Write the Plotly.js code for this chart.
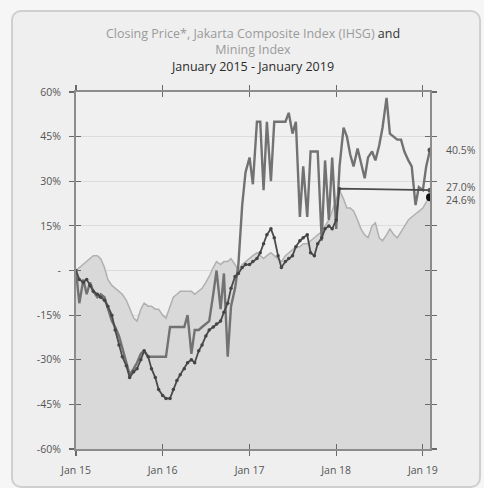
<!DOCTYPE html>
<html>
<head>
<meta charset="utf-8">
<script src="https://cdn.plot.ly/plotly-3.0.1.min.js"></script>
<style>
  html, body { margin: 0; padding: 0; background: #f6f6f6; width: 484px; height: 488px; overflow: hidden; }
  #frame { position: absolute; left: 11px; top: 10px; width: 466px; height: 474px; border: 2px solid #cfcfcf; border-radius: 10px; background: #efefef; }
  #chart { position: absolute; left: 0; top: 0; width: 484px; height: 488px; }
</style>
</head>
<body>
<div id="frame"></div>
<div id="chart"></div>
<script>
// Semi-monthly observation dates
const dates = [
 '2015-01-01','2015-01-15','2015-02-01','2015-02-15','2015-03-01','2015-03-15','2015-04-01','2015-04-15','2015-05-01','2015-05-15','2015-06-01','2015-06-15',
 '2015-07-01','2015-07-15','2015-08-01','2015-08-15','2015-09-01','2015-09-15','2015-10-01','2015-10-15','2015-11-01','2015-11-15','2015-12-01','2015-12-15',
 '2016-01-01','2016-01-15','2016-02-01','2016-02-15','2016-03-01','2016-03-15','2016-04-01','2016-04-15','2016-05-01','2016-05-15','2016-06-01','2016-06-15',
 '2016-07-01','2016-07-15','2016-08-01','2016-08-15','2016-09-01','2016-09-15','2016-10-01','2016-10-15','2016-11-01','2016-11-15','2016-12-01','2016-12-15',
 '2017-01-01','2017-01-15','2017-02-01','2017-02-15','2017-03-01','2017-03-15','2017-04-01','2017-04-15','2017-05-01','2017-05-15','2017-06-01','2017-06-15',
 '2017-07-01','2017-07-15','2017-08-01','2017-08-15','2017-09-01','2017-09-15','2017-10-01','2017-10-15','2017-11-01','2017-11-15','2017-12-01','2017-12-15',
 '2018-01-01','2018-01-15','2018-02-01','2018-02-15','2018-03-01','2018-03-15','2018-04-01','2018-04-15','2018-05-01','2018-05-15','2018-06-01','2018-06-15',
 '2018-07-01','2018-07-15','2018-08-01','2018-08-15','2018-09-01','2018-09-15','2018-10-01','2018-10-15','2018-11-01','2018-11-15','2018-12-01','2018-12-15',
 '2019-01-01','2019-01-15','2019-01-31'
];

// Closing price, % change since Jan 2015
const closingPrice = [
 0,-11,-3,-8,-4,-7,-9,-8,-9,-13,-17,-19,-22,-26,-31,-35,-33,-31,-28,-27,-29,-29,-29,-29,
 -29,-29,-19,-19,-19,-19,-19,-15,-28,-20,-20,-19,-18,-17,-8,0,-13,-1,-29,-12,-6,2,22,33,
 38,29,50,50,27,50,30,50,50,50,50,53,46,50,18,35,18,40,40,40,10,37,17,38,
 14,35,48,45,39,35,41,36,31,38,40,37,42,48,58,46,45,44,44,40,37,35,22,28,
 27,35,40.5
];

// Mining index, % change (no data between Feb 2018 and Jan 2019)
const miningIndex = [
 0,-3,-4,-3,-5,-7,-8,-9,-10,-12,-15,-20,-25,-29,-32,-36,-34,-33,-30,-27,-29,-33,-36,-40,
 -42,-43,-43,-40,-37,-35,-33,-31,-30,-31,-27,-25,-22,-20,-19,-18,-17,-14,-11,-6,-2,-1,1,2,
 2,3,4,6,9,12,14,11,5,1,3,4,5,8,10,11,12,6,5,9,11,14,15,14,
 17,27.5,null,null,null,null,null,null,null,null,null,null,null,null,null,null,null,null,null,null,null,null,null,null,
 null,null,27.0
];

// Jakarta Composite Index (IHSG), % change
const jci = [
 0,1,2,3,4,5,5,4,1,-3,-5,-6,-7,-8,-10,-13,-16,-17,-13,-11,-12,-12,-13,-13,
 -15,-16,-12,-9,-8,-7,-7,-7,-7,-8,-7,-6,-4,-2,1,3,2,3,3,4,2,0,2,3,
 4,5,6,5,4,5,6,5,4,3,5,6,7,8,8,9,9,10,11,12,13,15,17,20,
 24,27,24,21,21,20,17,14,12,11,15,16,11,10,12,14,12,11,13,15,17,18,19,20,
 21,23,24.6
];

const yRange = [-60, 60];
const xRange = ['2015-01-01', '2019-01-31'];
const yTickVals = [-60,-45,-30,-15,0,15,30,45,60];
const yTickText = ['-60%','-45%','-30%','-15%','-','15%','30%','45%','60%'];
const xTickVals = ['2015-01-01','2016-01-01','2017-01-01','2018-01-01','2019-01-01'];
const xTickText = ['Jan 15','Jan 16','Jan 17','Jan 18','Jan 19'];

const FONT = 'Open Sans, Noto Sans, sans-serif';
const last = a => a[a.length - 1];
const lastDate = last(dates);

const traces = [
  { x: dates, y: dates.map(() => yRange[0]), type: 'scatter', mode: 'lines',
    line: { width: 0, color: 'rgba(0,0,0,0)' }, hoverinfo: 'skip', showlegend: false },
  { x: dates, y: jci, type: 'scatter', mode: 'lines', name: 'IHSG',
    line: { color: '#b0b0b0', width: 1.5 }, fill: 'tonexty', fillcolor: '#d9d9d9', showlegend: false },
  { x: dates, y: closingPrice, type: 'scatter', mode: 'lines', name: 'Closing Price',
    line: { color: '#727272', width: 2.4 }, showlegend: false },
  { x: dates, y: miningIndex, type: 'scatter', mode: 'lines+markers', name: 'Mining Index',
    connectgaps: true, line: { color: '#4a4a4a', width: 1.8 },
    marker: { size: 3.5, color: '#444' }, showlegend: false },
  { x: [lastDate], y: [last(jci)], type: 'scatter', mode: 'markers',
    marker: { size: 8, color: '#111' }, showlegend: false },
  { x: [lastDate, lastDate], y: [last(closingPrice), last(miningIndex)], type: 'scatter', mode: 'markers',
    marker: { size: 5, color: '#555' }, showlegend: false }
];

const endLabels = [
  { v: last(closingPrice), shift: 0 },
  { v: last(miningIndex), shift: 3 },
  { v: last(jci), shift: -3 }
];

const axisCommon = {
  showline: true, linecolor: '#8c8c8c', linewidth: 2, mirror: 'allticks',
  ticks: 'outside', ticklen: 5, tickcolor: '#6a6a6a', tickwidth: 1.2,
  tickfont: { family: FONT, size: 10.5, color: '#555' }, zeroline: false
};

const layout = {
  width: 484, height: 488,
  paper_bgcolor: 'rgba(0,0,0,0)', plot_bgcolor: '#f0f0f0',
  margin: { l: 76, r: 54, t: 92, b: 39 },
  title: {
    text: '<span style="color:#9a9a9a">Closing Price*, Jakarta Composite Index (IHSG)</span> <span style="color:#333">and</span><br>' +
          '<span style="color:#9a9a9a">Mining Index</span><br><span style="color:#2a2a2a">January 2015 - January 2019</span>',
    font: { family: FONT, size: 12.5, color: '#333' },
    x: 0.5, xref: 'paper', xanchor: 'center', y: 1 - 38 / 488, yref: 'container', yanchor: 'top'
  },
  xaxis: Object.assign({}, axisCommon, {
    type: 'date', range: xRange, tickvals: xTickVals, ticktext: xTickText,
    showgrid: false, ticklabelstandoff: 5
  }),
  yaxis: Object.assign({}, axisCommon, {
    range: yRange, tickvals: yTickVals, ticktext: yTickText,
    showgrid: true, gridcolor: '#dcdcdc', gridwidth: 1, ticklabelstandoff: 6
  }),
  xaxis2: { overlaying: 'x', matches: 'x', type: 'date', range: xRange, tickvals: xTickVals,
    ticks: 'inside', ticklen: 5, tickcolor: '#6a6a6a', tickwidth: 1.2, mirror: 'allticks',
    showticklabels: false, showline: false, showgrid: false, zeroline: false },
  yaxis2: { overlaying: 'y', matches: 'y', range: yRange, tickvals: yTickVals,
    ticks: 'inside', ticklen: 5, tickcolor: '#6a6a6a', tickwidth: 1.2, mirror: 'allticks',
    showticklabels: false, showline: false, showgrid: false, zeroline: false },
  annotations: endLabels.map(e => ({
    xref: 'paper', x: 1, xanchor: 'left', xshift: 14, yref: 'y', y: e.v, yshift: e.shift,
    text: e.v.toFixed(1) + '%', showarrow: false,
    font: { family: FONT, size: 10.5, color: '#555' }
  })),
  showlegend: false
};

// invisible trace that activates the overlay axes (crossing ticks)
traces.push({ x: [xRange[0]], y: [yRange[0]], xaxis: 'x2', yaxis: 'y2', mode: 'markers',
  marker: { opacity: 0 }, hoverinfo: 'skip', showlegend: false, type: 'scatter' });

Plotly.newPlot('chart', traces, layout, { displayModeBar: false, staticPlot: true });
</script>
</body>
</html>
